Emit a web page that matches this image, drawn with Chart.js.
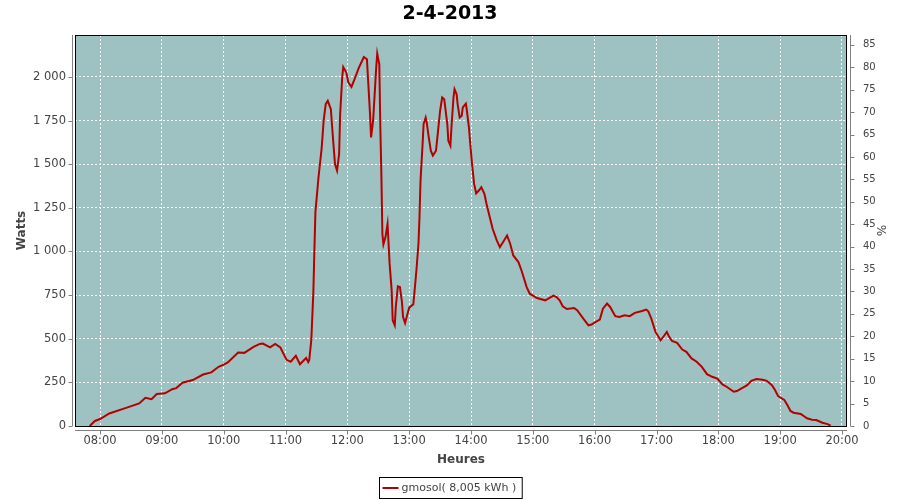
<!DOCTYPE html>
<html><head><meta charset="utf-8">
<script src="https://cdn.jsdelivr.net/npm/chart.js@4/dist/chart.umd.min.js"></script>
<style>html,body{margin:0;padding:0;background:#fff}#wrap{width:900px;height:500px;position:relative}</style>
</head><body><div id="wrap"><canvas id="c" width="900" height="500"></canvas></div>
<script>
const chartTitle = '2-4-2013';
const seriesLabel = 'gmosol( 8,005 kWh )';
const times = ['07:50','07:55','08:00','08:09','08:26','08:38','08:44','08:50','08:55','09:03','09:10','09:14','09:20','09:30','09:40','09:48','09:55','10:00','10:04','10:14','10:20','10:29','10:35','10:38','10:45','10:50','10:55','11:01','11:05','11:10','11:14','11:20','11:22','11:23','11:25','11:27','11:28','11:29','11:32','11:35','11:37','11:39','11:41','11:44','11:46','11:48','11:50','11:52','11:53','11:55','11:56','11:59','12:01','12:04','12:07','12:11','12:16','12:19','12:20','12:22','12:23','12:25','12:28','12:29','12:31','12:32','12:33','12:34','12:35','12:37','12:39','12:41','12:43','12:44','12:46','12:47','12:49','12:51','12:53','12:54','12:56','12:58','13:00','13:04','13:05','13:07','13:09','13:10','13:11','13:13','13:14','13:16','13:17','13:19','13:21','13:23','13:26','13:28','13:30','13:32','13:34','13:37','13:38','13:40','13:41','13:43','13:44','13:46','13:47','13:49','13:51','13:52','13:55','13:56','13:58','13:59','14:01','14:03','14:05','14:08','14:10','14:13','14:15','14:19','14:21','14:25','14:28','14:31','14:35','14:38','14:41','14:46','14:49','14:54','14:57','15:04','15:12','15:15','15:20','15:23','15:26','15:29','15:33','15:40','15:43','15:49','15:54','15:57','16:01','16:05','16:08','16:12','16:15','16:20','16:24','16:29','16:34','16:39','16:46','16:50','16:52','16:55','16:59','17:04','17:07','17:10','17:12','17:15','17:20','17:25','17:29','17:34','17:39','17:44','17:49','17:54','17:59','18:04','18:08','18:15','18:18','18:23','18:28','18:32','18:37','18:43','18:47','18:52','18:55','18:58','19:04','19:07','19:10','19:13','19:20','19:26','19:31','19:35','19:41','19:46','19:49'];
const watts = [0,29,40,72,105,129,162,154,183,187,211,217,248,263,295,307,339,352,364,421,419,453,470,472,451,470,450,379,368,402,354,390,366,377,491,767,1006,1225,1425,1587,1749,1844,1863,1815,1653,1501,1463,1558,1787,1996,2057,2025,1967,1943,1987,2050,2114,2101,1996,1787,1653,1749,2053,2133,2072,1710,1444,1100,1040,1082,1158,930,777,606,577,682,800,796,710,625,590,634,678,697,758,891,1044,1196,1406,1615,1730,1767,1739,1653,1577,1549,1577,1691,1806,1882,1872,1730,1634,1606,1710,1882,1930,1901,1844,1767,1777,1825,1847,1806,1710,1634,1501,1387,1333,1352,1368,1330,1273,1177,1130,1063,1025,1053,1091,1044,977,939,891,796,758,733,720,730,747,739,720,686,670,676,663,615,577,581,596,610,672,701,682,629,625,634,629,648,659,667,657,615,539,491,514,539,514,488,476,438,425,387,368,339,297,282,272,238,225,196,200,217,234,259,269,265,259,234,206,171,149,120,86,76,69,44,36,34,19,11,2];
const hourTicks = [8,9,10,11,12,13,14,15,16,17,18,19,20];
const hourLabels = ['08:00','09:00','10:00','11:00','12:00','13:00','14:00','15:00','16:00','17:00','18:00','19:00','20:00'];
const wattTicks = [0,250,500,750,1000,1250,1500,1750,2000];
const wattLabels = ['0','250','500','750','1 000','1 250','1 500','1 750','2 000'];
const pctTicks = [0,5,10,15,20,25,30,35,40,45,50,55,60,65,70,75,80,85];
const pctLabels = pctTicks.map(String);

const toH = t => { const [h, m] = t.split(':').map(Number); return h + m / 60; };
const FONT = 'DejaVu Sans';
const TXT = '#444444';

const plotDeco = {
  id: 'plotDeco',
  beforeDraw(chart) {
    const a = chart.chartArea, ctx = chart.ctx;
    ctx.save();
    ctx.fillStyle = '#9EC2C2';
    ctx.fillRect(a.left, a.top, a.right - a.left, a.bottom - a.top);
    ctx.restore();
  },
  afterDraw(chart) {
    const a = chart.chartArea, ctx = chart.ctx;
    const sx = chart.scales.x, sy = chart.scales.y, sp = chart.scales.y1;
    ctx.save();
    ctx.strokeStyle = '#000';
    ctx.lineWidth = 1;
    ctx.strokeRect(a.left + 0.5, a.top + 0.5, a.right - a.left - 1, a.bottom - a.top);
    ctx.strokeStyle = '#808080';
    ctx.beginPath();
    ctx.moveTo(a.left - 2.5, a.top); ctx.lineTo(a.left - 2.5, a.bottom);
    ctx.moveTo(a.right + 3.5, a.top); ctx.lineTo(a.right + 3.5, a.bottom);
    ctx.moveTo(a.left, a.bottom + 4.5); ctx.lineTo(a.right, a.bottom + 4.5);
    hourTicks.forEach(v => { const x = Math.round(sx.getPixelForValue(v)) + 0.5; ctx.moveTo(x, a.bottom + 4.5); ctx.lineTo(x, a.bottom + 8.5); });
    wattTicks.forEach(v => { const y = Math.round(sy.getPixelForValue(v)) + 0.5; ctx.moveTo(a.left - 2.5, y); ctx.lineTo(a.left - 6.5, y); });
    pctTicks.forEach(v => { const y = Math.round(sp.getPixelForValue(v)) + 0.5; ctx.moveTo(a.right + 3.5, y); ctx.lineTo(a.right + 7.5, y); });
    ctx.stroke();
    const ds = chart.data.datasets[0];
    ctx.font = '11px "' + FONT + '"';
    const tw = ctx.measureText(ds.label).width;
    const bw = tw + 28, bx = Math.round(450 - bw / 2) + 0.5, by = 477.5;
    ctx.strokeStyle = '#000';
    ctx.strokeRect(bx, by, bw, 21);
    ctx.strokeStyle = ds.borderColor; ctx.lineWidth = 2;
    ctx.beginPath(); ctx.moveTo(bx + 3, 488); ctx.lineTo(bx + 19, 488); ctx.stroke();
    ctx.fillStyle = TXT; ctx.textBaseline = 'middle'; ctx.textAlign = 'left';
    ctx.fillText(ds.label, bx + 22, 488.5);
    ctx.restore();
  }
};

const gridOpts = { color: '#ffffff', lineWidth: 1, drawTicks: false };
new Chart(document.getElementById('c'), {
  type: 'line',
  data: { datasets: [{ label: seriesLabel, data: times.map((t, i) => ({ x: toH(t), y: watts[i] })), borderColor: '#B40000', borderWidth: 2, pointRadius: 0, tension: 0, fill: false, yAxisID: 'y' }] },
  options: {
    responsive: false, animation: false, devicePixelRatio: 1,
    layout: { padding: 0 },
    plugins: {
      legend: { display: false }, tooltip: { enabled: false },
      title: { display: true, text: chartTitle, color: '#000', font: { family: FONT, size: 19, weight: 'bold', lineHeight: 1.2 }, padding: { top: 3, bottom: 9.2 } }
    },
    scales: {
      x: { type: 'linear', position: 'bottom', min: 7.595, max: 20.081,
        afterFit: s => { s.height = 74; },
        afterBuildTicks: s => { s.ticks = hourTicks.map(v => ({ value: v })); },
        ticks: { callback: (v, i) => hourLabels[i], font: { family: FONT, size: 11.5 }, color: TXT, padding: 8, maxRotation: 0, autoSkip: false, includeBounds: false },
        grid: gridOpts, border: { display: false, dash: [2, 2] },
        title: { display: true, text: 'Heures', color: '#444', font: { family: FONT, size: 12, weight: 'bold', lineHeight: 1.2 }, padding: { top: 0, bottom: 32.8 } } },
      y: { type: 'linear', position: 'left', min: 0, max: 2240,
        afterFit: s => { s.width = 75; },
        afterBuildTicks: s => { s.ticks = wattTicks.map(v => ({ value: v })); },
        ticks: { callback: (v, i) => wattLabels[i], font: { family: FONT, size: 11.5 }, color: TXT, padding: 9, includeBounds: false },
        grid: gridOpts, border: { display: false, dash: [2, 2] },
        title: { display: true, text: 'Watts', color: '#444', font: { family: FONT, size: 12, weight: 'bold', lineHeight: 1.2 }, padding: { top: 14.3, bottom: 0 } } },
      y1: { type: 'linear', position: 'right', min: 0, max: 87.2,
        afterFit: s => { s.width = 53; },
        afterBuildTicks: s => { s.ticks = pctTicks.map(v => ({ value: v })); },
        ticks: { callback: (v, i) => pctLabels[i], font: { family: FONT, size: 10 }, color: TXT, padding: 8, includeBounds: false },
        grid: { display: false }, border: { display: false },
        title: { display: true, text: '%', color: '#444', font: { family: FONT, size: 12, lineHeight: 1.2 }, padding: { top: 12.8, bottom: 0 } } }
    }
  },
  plugins: [plotDeco]
});
</script></body></html>
